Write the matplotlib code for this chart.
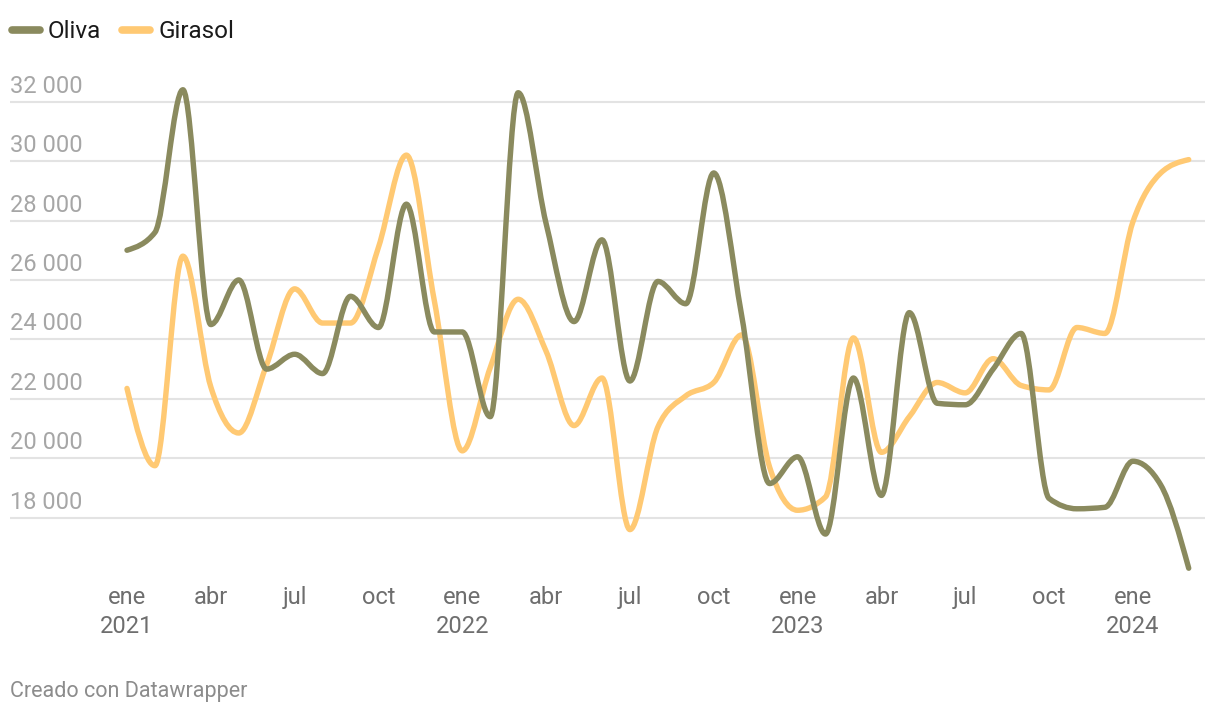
import numpy as np
import matplotlib
matplotlib.use("Agg")
import matplotlib.pyplot as plt
from matplotlib.path import Path
from matplotlib.patches import PathPatch
from matplotlib.lines import Line2D

plt.rcParams['font.family'] = ['Roboto', 'DejaVu Sans']

# monthly prices, Jan 2021 - Mar 2024
months = ['ene', 'feb', 'mar', 'abr', 'may', 'jun', 'jul', 'ago', 'sep', 'oct', 'nov', 'dic'] * 3 + ['ene', 'feb', 'mar']
oliva = [27000, 27600, 32400, 24500, 26000, 23000, 23500, 22850, 25450, 24400, 28550, 24250,
         24250, 21400, 32300, 27900, 24600, 27350, 22600, 25950, 25200, 29600, 24800, 19150,
         20050, 17450, 22700, 18750, 24900, 21850, 21800, 23000, 24200, 18650, 18300, 18350,
         19900, 19100, 16300]
girasol = [22350, 19750, 26800, 22400, 20850, 23150, 25700, 24550, 24550, 27100, 30200, 25300,
           20250, 23050, 25350, 23600, 21100, 22700, 17600, 21050, 22100, 22550, 24150, 19700,
           18250, 18700, 24050, 20200, 21400, 22550, 22200, 23350, 22450, 22300, 24400, 24200,
           27950, 29600, 30050]
series_names = ['Oliva', 'Girasol']
series_colors = ['#8a8a5e', '#ffc973']
y_ticks = [18000, 20000, 22000, 24000, 26000, 28000, 30000, 32000]
x_tick_pos = [0, 3, 6, 9, 12, 15, 18, 21, 24, 27, 30, 33, 36]
x_tick_labels = ['ene\n2021', 'abr', 'jul', 'oct', 'ene\n2022', 'abr', 'jul', 'oct',
                 'ene\n2023', 'abr', 'jul', 'oct', 'ene\n2024']


def monotone_path(x, y):
    # same construction as d3.curveMonotoneX: cubic bezier segments
    x = np.asarray(x, float)
    y = np.asarray(y, float)
    h = np.diff(x)
    s = np.diff(y) / h
    t = np.zeros(len(x))
    for i in range(1, len(x) - 1):
        p = (s[i - 1] * h[i] + s[i] * h[i - 1]) / (h[i - 1] + h[i])
        t[i] = (np.sign(s[i - 1]) + np.sign(s[i])) * min(abs(s[i - 1]), abs(s[i]), 0.5 * abs(p))
    t[0] = (3 * s[0] - t[1]) / 2
    t[-1] = (3 * s[-1] - t[-2]) / 2
    verts = [(x[0], y[0])]
    codes = [Path.MOVETO]
    for i in range(len(x) - 1):
        dx = h[i] / 3
        verts += [(x[i] + dx, y[i] + dx * t[i]),
                  (x[i + 1] - dx, y[i + 1] - dx * t[i + 1]),
                  (x[i + 1], y[i + 1])]
        codes += [Path.CURVE4] * 3
    return Path(verts, codes)


W, H = 1220, 716
fig = plt.figure(figsize=(W / 100, H / 100), dpi=100)


def fx(px):
    return px / W


def fy(py):
    return 1 - py / H


# axes placed so that month 0 sits at x=127px and 18000 at y=517.7px
px_per_month = 27.94
ax_left, ax_right = 10, 1205
ax_top, ax_bottom = 60, 600
ax = fig.add_axes([fx(ax_left), fy(ax_bottom), fx(ax_right - ax_left), (ax_bottom - ax_top) / H])
ax.set_xlim((ax_left - 127) / px_per_month, (ax_right - 127) / px_per_month)
ax.set_ylim(18000 - (ax_bottom - 517.7) * 33.65, 18000 + (517.7 - ax_top) * 33.65)
for s in ax.spines.values():
    s.set_visible(False)

for v in y_ticks:
    ax.axhline(v, color='#e3e3e3', lw=1.5, zorder=1)
    ax.text(ax.get_xlim()[0], v + 9 * 33.65, f'{v:,}'.replace(',', ' '),
            ha='left', va='baseline', fontsize=17, color='#a6a6a6')
ax.set_yticks([])

ax.set_xticks(x_tick_pos)
ax.set_xticklabels(x_tick_labels, fontsize=17, color='#6e6e6e', linespacing=1.3)
ax.tick_params(axis='x', length=0, pad=-10)

xs = np.arange(len(oliva))
for vals, c in [(girasol, series_colors[1]), (oliva, series_colors[0])]:
    patch = PathPatch(monotone_path(xs, vals), fill=False, edgecolor=c, lw=3.9,
                      capstyle='round', joinstyle='round', zorder=3)
    ax.add_patch(patch)

# legend
leg_x = [(12, 40, 48), (122, 150, 159)]
for (x0, x1, xt), name, c in zip(leg_x, series_names, series_colors):
    fig.add_artist(Line2D([fx(x0), fx(x1)], [fy(30), fy(30)], color=c, lw=5.5,
                          solid_capstyle='round', transform=fig.transFigure))
    fig.text(fx(xt), fy(31), name, ha='left', va='center', fontsize=17.5, color='#1a1a1a')

fig.text(fx(10), fy(691), 'Creado con Datawrapper', ha='left', va='center', fontsize=15.5,
         color='#8c8c8c')

fig.savefig('out.png', dpi=100, facecolor='white')
